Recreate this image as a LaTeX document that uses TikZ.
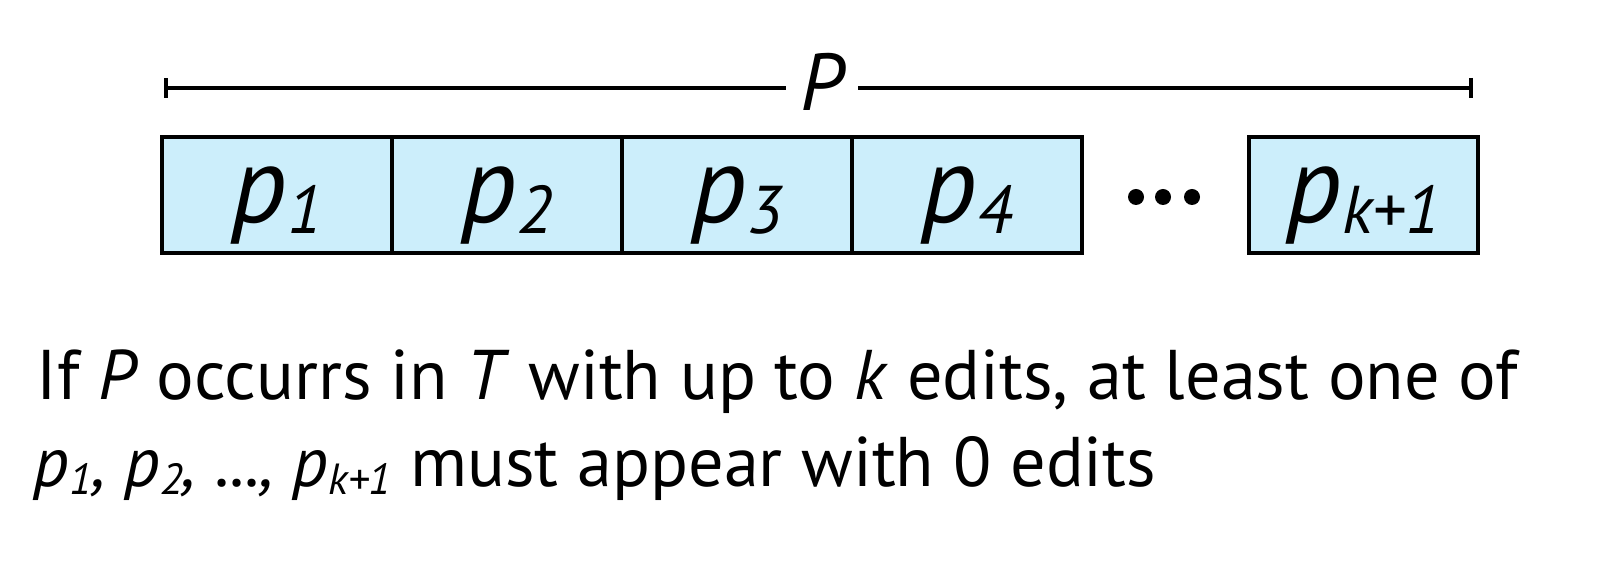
\documentclass[tikz,border=0pt]{standalone}
\usepackage{fontspec}
\usepackage{graphicx}
\usepackage{tikz}
\setmainfont{PT Sans}
\usetikzlibrary{arrows.meta, positioning}
\definecolor{segBlue}{HTML}{CCEEFB}
\newcommand{\psub}[1]{\textit{p}\raisebox{-0.1em}{\scalebox{0.62}{\itshape #1}}}

\begin{document}
\begin{tikzpicture}[
    seg/.style={draw, line width=1.1pt, fill=segBlue, minimum width=2.3cm, inner sep=0pt,
        text height=0.86cm, text depth=0.3cm, font=\fontsize{31}{34}\selectfont},
    caption/.style={anchor=base west, inner sep=0pt, font=\fontsize{20}{24}\selectfont},
]
    \useasboundingbox (0,0) rectangle (16.09,-5.67);

    % Pattern length
    \coordinate (lft) at (1.64,-0.88);
    \coordinate (rgt) at (14.73,-0.88);
    \node[anchor=base, inner xsep=0.14cm, font=\fontsize{23}{26}\selectfont\itshape] (P) at (8.22,-1.11) {P};
    \draw[line width=1.1pt, {Bar[width=0.2cm]}-] (lft) -- (lft -| P.west);
    \draw[line width=1.1pt, {Bar[width=0.2cm]}-] (rgt) -- (rgt -| P.east);

    % Pieces
    \node[seg] (p1) at (2.77,-1.95) {\psub{1}};
    \node[seg] (p2) at (5.07,-1.95) {\psub{2}};
    \node[seg] (p3) at (7.37,-1.95) {\psub{3}};
    \node[seg] (p4) at (9.67,-1.95) {\psub{4}};
    \node[seg, minimum width=2.29cm] (pk) at (13.635,-1.95) {\psub{k+1}};

    \fill (11.36,-1.97) circle (0.08);
    \fill (11.63,-1.97) circle (0.08);
    \fill (11.92,-1.97) circle (0.08);

    % Claim
    \node[caption] (line1) at (0.36,-4.00) {If \textit{P} occurrs in \textit{T} with up to \textit{k} edits, at least one of};
    \node[caption] (line2) at (0.33,-4.87) {\textit{\psub{1}, \psub{2}, ..., \psub{k+1}} must appear with 0 edits};
\end{tikzpicture}
\end{document}
